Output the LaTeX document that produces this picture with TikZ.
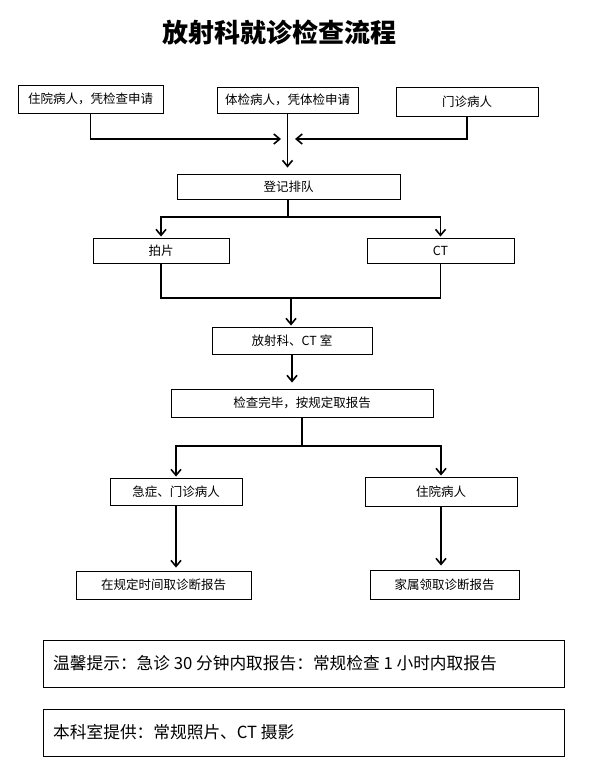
\documentclass[tikz,border=0pt]{standalone}
\usepackage{fontspec}
\setmainfont{Noto Sans CJK SC}
\usetikzlibrary{arrows.meta}
\tikzset{
  box/.style={draw, line width=0.9pt, inner sep=0pt, font=\fontsize{12.5}{14}\selectfont},
  note/.style={draw, line width=0.9pt, inner sep=0pt},
  notetext/.style={anchor=west, inner sep=0pt, font=\fontsize{16.7}{19}\selectfont},
  conn/.style={line width=1.6pt},
  arr/.style={conn, -{Straight Barb[length=6pt,width=10pt,line width=1.6pt]}}
}
\begin{document}
\begin{tikzpicture}[x=1pt,y=-1pt]
\useasboundingbox[fill=white] (0,0) rectangle (590,775);
\node[font=\fontsize{26}{30}\selectfont\bfseries] (title) at (279,32) {放射科就诊检查流程};

\node[box, minimum width=145pt, minimum height=28pt] (b1) at (90.5,99) {住院病人，凭检查申请};
\node[box, minimum width=141pt, minimum height=26pt] (b2) at (287.5,100) {体检病人，凭体检申请};
\node[box, minimum width=142pt, minimum height=29pt] (b3) at (467,101.5) {门诊病人};
\coordinate (m1) at (281,139);
\coordinate (m2) at (295,139);
\draw[arr] (b1.south) |- (m1);
\draw[arr] (b3.south) |- (m2);

\node[box, minimum width=223pt, minimum height=25pt] (reg) at (288.5,186.5) {登记排队};
\draw[arr, shorten >=6pt] (b2.south) -- (b2.south |- reg.north);

\node[box, minimum width=136pt, minimum height=25pt] (p) at (161,250.5) {拍片};
\node[box, minimum width=147pt, minimum height=25pt] (ct) at (440.5,250.5) {CT};
\coordinate (s1) at (288,217);
\draw[conn] (reg.south -| s1) -- (s1);
\draw[arr, shorten >=1pt] (s1) -| (p.north);
\draw[arr, shorten >=1pt] (s1) -| (ct.north);

\node[box, minimum width=160pt, minimum height=27pt] (room) at (292,340.5) {放射科、CT 室};
\coordinate (j1) at (291,298);
\draw[conn] (p.south) |- (ct.south |- j1) -- (ct.south);
\draw[arr, shorten >=1pt] (j1) -- (j1 |- room.north);

\node[box, minimum width=262pt, minimum height=28pt] (chk) at (302,403) {检查完毕，按规定取报告};
\draw[arr, shorten >=6pt] (room.south) -- (room.south |- chk.north);

\node[box, minimum width=132pt, minimum height=27pt] (e) at (176,491.5) {急症、门诊病人};
\node[box, minimum width=152pt, minimum height=29pt] (z) at (441,491.5) {住院病人};
\coordinate (s2) at (302,446);
\draw[conn] (chk.south -| s2) -- (s2);
\draw[arr, shorten >=1pt] (s2) -| (e.north);
\draw[arr, shorten >=1pt] (s2) -| (z.north);

\node[box, minimum width=175pt, minimum height=28pt] (r1) at (163.5,585) {在规定时间取诊断报告};
\node[box, minimum width=149pt, minimum height=29pt] (r2) at (444.5,584.5) {家属领取诊断报告};
\draw[arr, shorten >=3pt] (e.south) -- (e.south |- r1.north);
\draw[arr, shorten >=4pt] (z.south) -- (z.south |- r2.north);

\node[note, minimum width=521pt, minimum height=47pt] (n1) at (303.5,663.5) {};
\node[notetext] (t1) at (53,663) {温馨提示：急诊 30 分钟内取报告：常规检查 1 小时内取报告};
\node[note, minimum width=521pt, minimum height=47pt] (n2) at (303.5,732.5) {};
\node[notetext] (t2) at (53,732) {本科室提供：常规照片、CT 摄影};
\end{tikzpicture}
\end{document}
